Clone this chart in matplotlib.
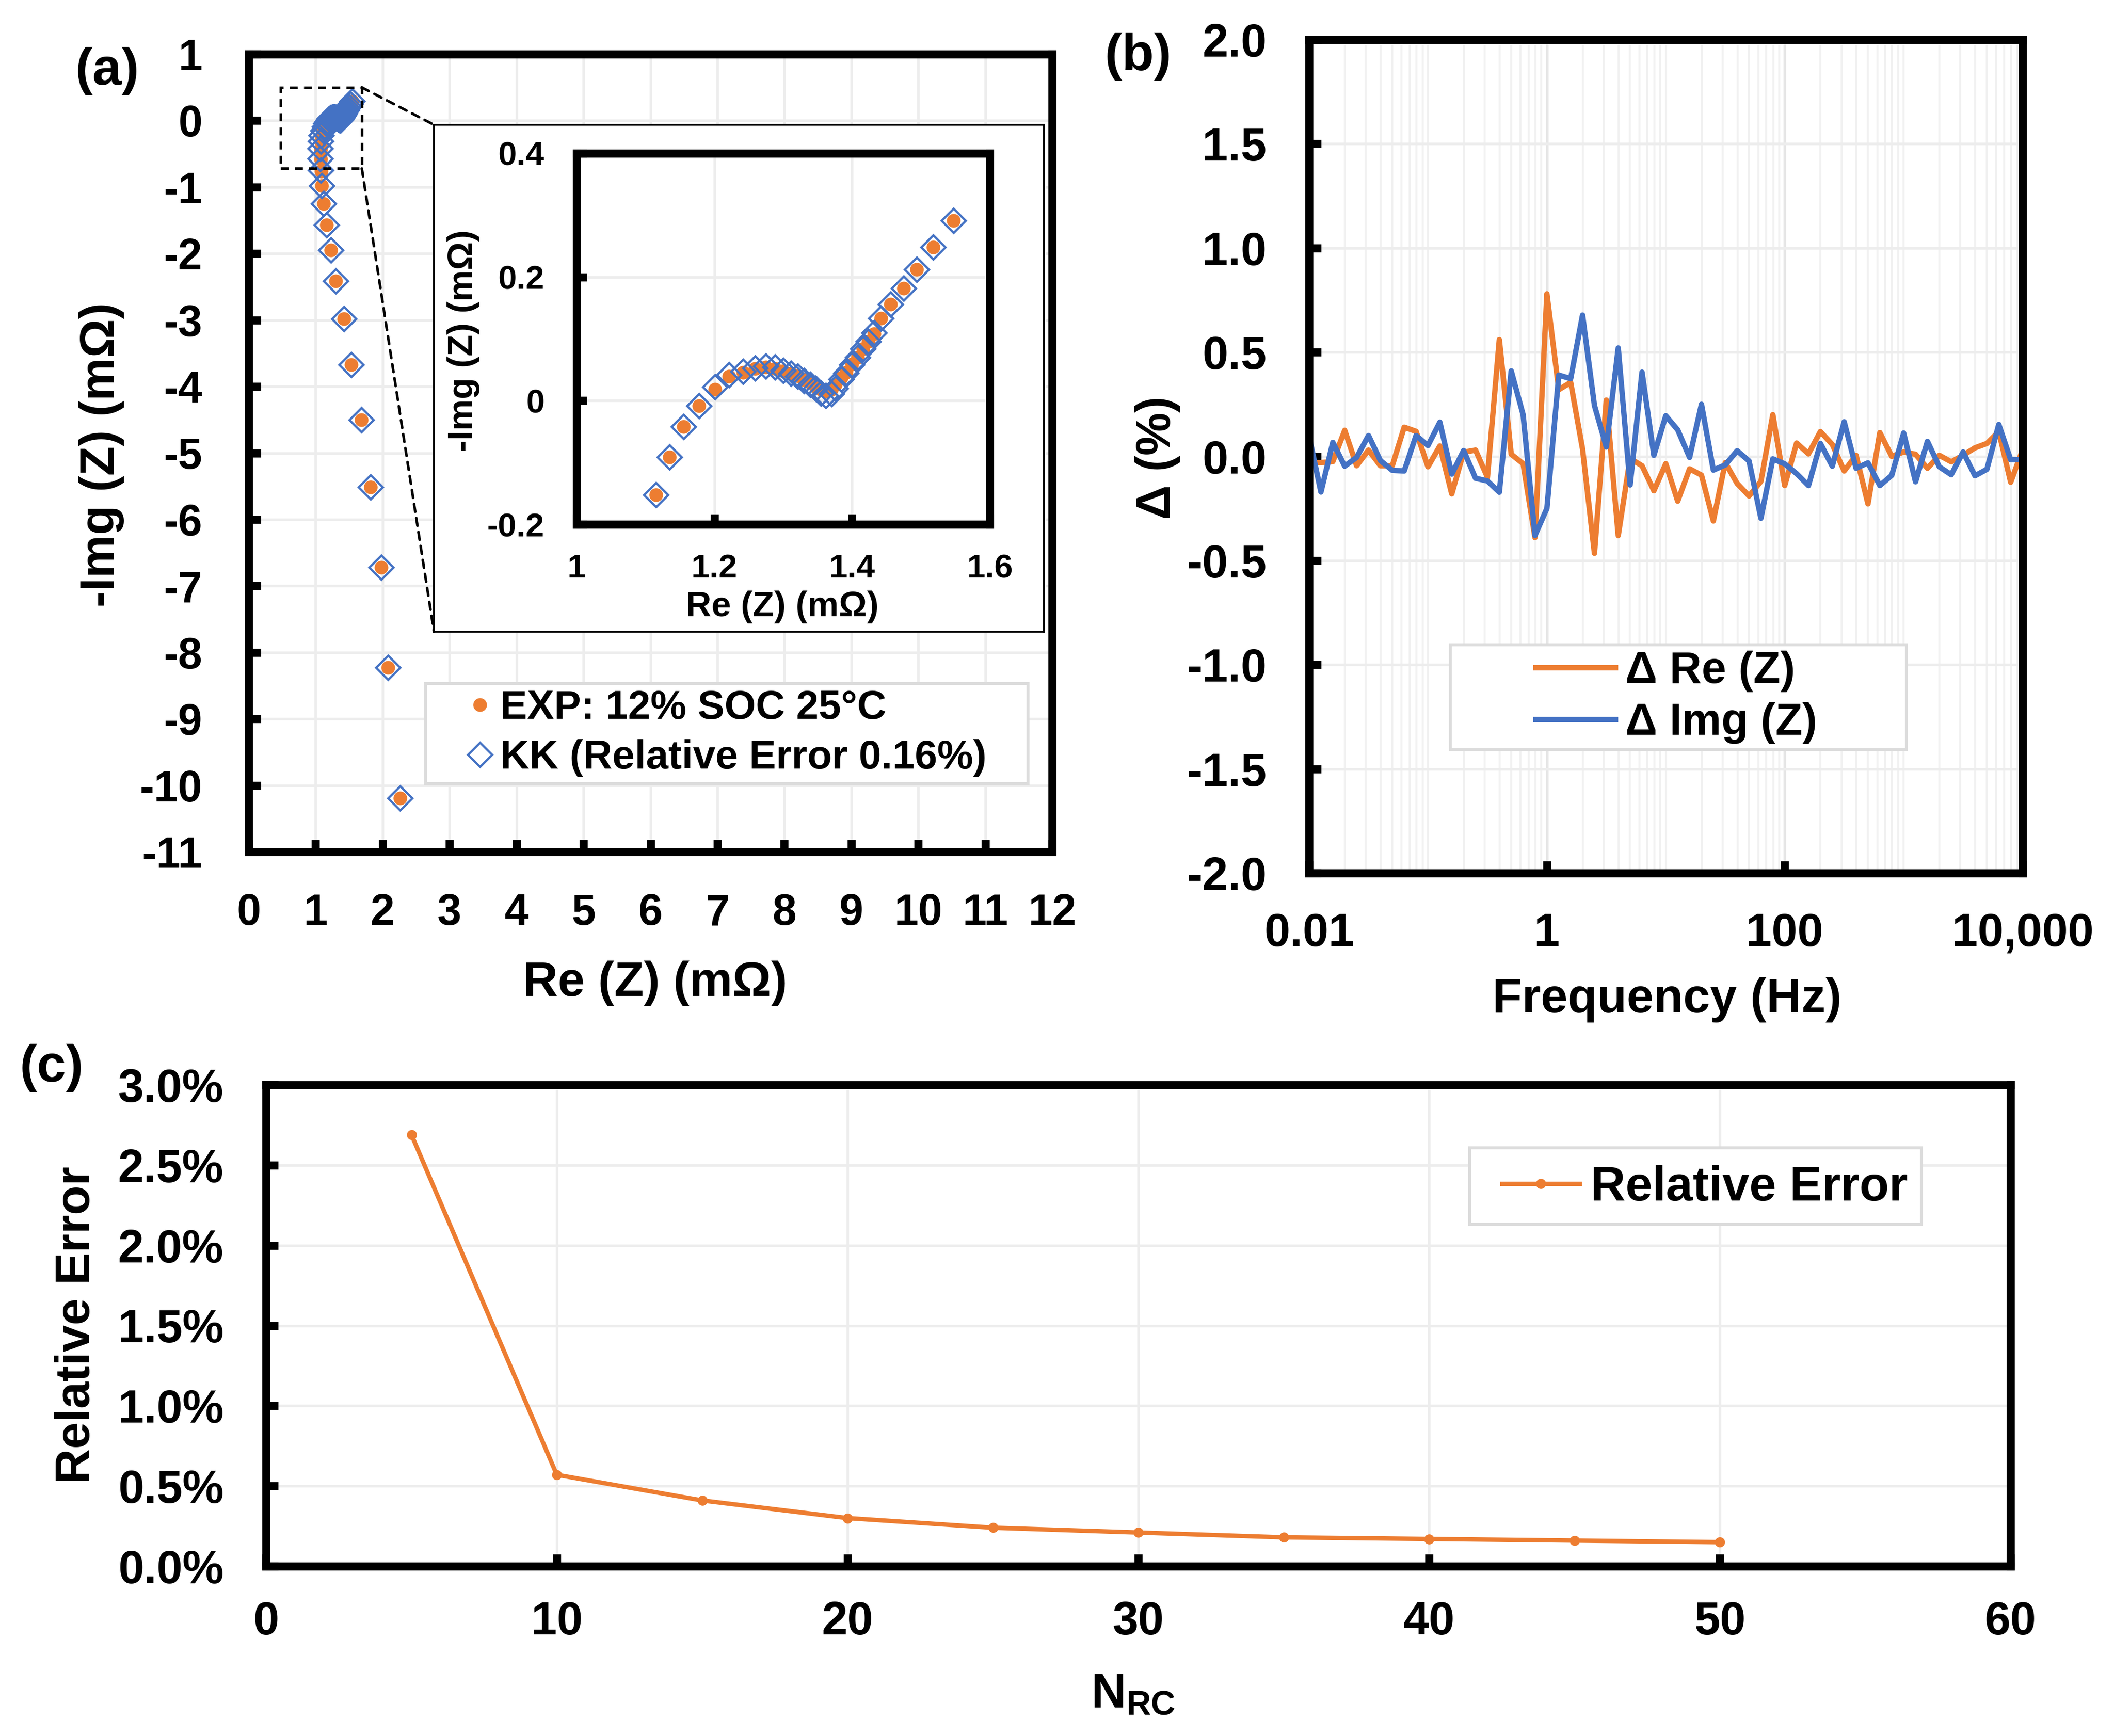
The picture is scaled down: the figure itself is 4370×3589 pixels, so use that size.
import matplotlib
matplotlib.use('Agg')
import matplotlib.pyplot as plt
from matplotlib.patches import Rectangle, ConnectionPatch
from matplotlib.ticker import FixedLocator, FormatStrFormatter, FuncFormatter, LogLocator, NullFormatter
import numpy as np

# ---- data: (a) Nyquist, measured vs KK fit (mOhm)
exp_re = [2.26, 2.08, 1.98, 1.82, 1.68, 1.53, 1.42, 1.30, 1.23, 1.16, 1.12, 1.09,
          1.086, 1.08, 1.075, 1.082, 1.092,
          1.115, 1.135, 1.155, 1.178, 1.201, 1.221, 1.242, 1.259, 1.275, 1.288,
          1.300, 1.311, 1.321, 1.330, 1.339, 1.347, 1.355, 1.362, 1.370, 1.376,
          1.384, 1.391, 1.400, 1.408, 1.416, 1.424, 1.432, 1.442, 1.456, 1.475,
          1.494, 1.518, 1.547]
exp_im = [-10.19, -8.23, -6.72, -5.51, -4.50, -3.67, -2.98, -2.41, -1.95, -1.57, -1.25, -0.98,
          -0.76, -0.58, -0.43, -0.32, -0.235,
          -0.152, -0.091, -0.042, -0.008, 0.018, 0.039, 0.046, 0.052, 0.054, 0.052,
          0.048, 0.044, 0.040, 0.034, 0.029, 0.023, 0.018, 0.015, 0.018, 0.026,
          0.037, 0.046, 0.059, 0.070, 0.084, 0.096, 0.108, 0.133, 0.156, 0.182,
          0.212, 0.248, 0.291]
kk_re = [2.26, 2.08, 1.98, 1.82, 1.68, 1.53, 1.42, 1.30, 1.23, 1.16, 1.12, 1.09,
         1.078, 1.072, 1.068, 1.074, 1.085,
         1.115, 1.135, 1.155, 1.178, 1.201, 1.221, 1.242, 1.259, 1.275, 1.288,
         1.300, 1.311, 1.321, 1.330, 1.339, 1.347, 1.355, 1.362, 1.370, 1.376,
         1.384, 1.391, 1.400, 1.408, 1.416, 1.424, 1.432, 1.442, 1.456, 1.475,
         1.494, 1.518, 1.547]
kk_im = [-10.19, -8.23, -6.72, -5.51, -4.50, -3.67, -2.98, -2.41, -1.95, -1.57, -1.25, -0.98,
         -0.75, -0.57, -0.42, -0.31, -0.225,
         -0.152, -0.091, -0.042, -0.008, 0.022, 0.042, 0.047, 0.053, 0.056, 0.054,
         0.049, 0.044, 0.039, 0.032, 0.026, 0.020, 0.012, 0.008, 0.011, 0.020,
         0.035, 0.045, 0.058, 0.070, 0.084, 0.096, 0.110, 0.133, 0.156, 0.182,
         0.212, 0.248, 0.291]

# ---- data: (b) residuals (%), 10 points per decade from 0.01 Hz to 10 kHz
mantissa = [1.0, 1.259, 1.585, 1.995, 2.512, 3.162, 3.981, 5.012, 6.310, 7.943]
freq = [m * 10.0 ** e for e in range(-2, 4) for m in mantissa] + [10000.0]
d_re = [-0.03, -0.03, -0.025, 0.125, -0.045, 0.03, -0.045, -0.045, 0.14, 0.12,
        -0.05, 0.05, -0.18, 0.02, 0.03, -0.10, 0.56, 0.01, -0.035, -0.39,
        0.78, 0.32, 0.355, 0.035, -0.465, 0.27, -0.38, -0.01, -0.045, -0.165,
        -0.035, -0.215, -0.06, -0.09, -0.31, -0.03, -0.13, -0.19, -0.12, 0.20,
        -0.14, 0.064, 0.012, 0.119, 0.057, -0.07, 0.005, -0.228, 0.114, 0.0,
        0.021, 0.01, -0.057, 0.005, -0.026, 0.005, 0.041, 0.062, 0.119, -0.124, 0.031]
d_img = [0.098, -0.171, 0.067, -0.047, -0.005, 0.10, -0.02, -0.067, -0.07, 0.10,
         0.052, 0.164, -0.085, 0.028, -0.105, -0.118, -0.172, 0.41, 0.20, -0.38,
         -0.25, 0.39, 0.373, 0.678, 0.244, 0.045, 0.52, -0.137, 0.404, 0.005,
         0.195, 0.127, -0.005, 0.25, -0.066, -0.041, 0.027, -0.022, -0.297, -0.012,
         -0.036, -0.083, -0.14, 0.062, -0.047, 0.166, -0.057, -0.031, -0.14, -0.091,
         0.112, -0.122, 0.072, -0.05, -0.088, 0.021, -0.093, -0.062, 0.153, -0.016, -0.016]

# ---- data: (c) relative error (%) vs number of RC elements
n_rc = [5, 10, 15, 20, 25, 30, 35, 40, 45, 50]
rel_err = [2.69, 0.57, 0.41, 0.30, 0.24, 0.21, 0.18, 0.17, 0.16, 0.15]

ORANGE = '#ED7D31'
BLUE = '#4472C4'
GRID = '#ededed'

plt.rcParams['font.family'] = ['Liberation Sans', 'DejaVu Sans']
plt.rcParams['font.weight'] = 'bold'
plt.rcParams['axes.labelweight'] = 'bold'
plt.rcParams['axes.unicode_minus'] = False
plt.rcParams['mathtext.fontset'] = 'custom'
plt.rcParams['mathtext.rm'] = 'Liberation Sans:bold'
plt.rcParams['mathtext.it'] = 'Liberation Sans:bold'
plt.rcParams['mathtext.bf'] = 'Liberation Sans:bold'

W, H = 4370, 3589
fig = plt.figure(figsize=(W / 300, H / 300), dpi=300)


def rect(l, t, r, b):
    return [l / W, 1 - b / H, (r - l) / W, (b - t) / H]


def style(ax, size, padx, pady, lw=4.0, tlen=6):
    for s in ax.spines.values():
        s.set_linewidth(lw)
        s.set_zorder(5)
    ax.tick_params(which='major', direction='in', length=tlen, width=lw, labelsize=size)
    ax.tick_params(axis='x', pad=padx)
    ax.tick_params(axis='y', pad=pady)
    ax.set_axisbelow(True)
    ax.grid(True, which='major', color=GRID, lw=1.3)


def put_label(ax, which, text, x, y, size):
    if which == 'x':
        ax.set_xlabel(text, fontsize=size, fontweight='bold')
        ax.xaxis.set_label_coords(x, y)
        ax.xaxis.label.set_verticalalignment('center')
    else:
        ax.set_ylabel(text, fontsize=size, fontweight='bold')
        ax.yaxis.set_label_coords(x, y)
        ax.yaxis.label.set_verticalalignment('center')


def legend_frame(ax, x0, y0, x1, y1):
    ax.add_patch(Rectangle((x0, y0), x1 - x0, y1 - y0, transform=ax.transAxes,
                           facecolor='white', edgecolor='#dcdcdc', lw=1.5, zorder=6))


# ================= (a) Nyquist =================
ax_a = fig.add_axes(rect(514, 112, 2175, 1761))
ax_a.plot(exp_re, exp_im, 'o', color=ORANGE, ms=6.8, mew=0, label='EXP: 12% SOC 25°C', zorder=2)
ax_a.plot(kk_re, kk_im, 'D', mfc='none', mec=BLUE, ms=8.6, mew=1.1,
          label='KK (Relative Error 0.16%)', zorder=3)
ax_a.set_xlim(0, 12)
ax_a.set_ylim(-11, 1)
ax_a.set_xticks(range(0, 13))
ax_a.set_yticks(range(-11, 2))
style(ax_a, 21.5, 20.5, 23)
put_label(ax_a, 'x', 'Re (Z) (mΩ)', 0.506, -0.165, 24)
put_label(ax_a, 'y', '-Img (Z) (mΩ)', -0.183, 0.498, 24)

ax_a.add_patch(Rectangle((0.48, -0.72), 1.21, 1.22, fill=False, ec='black', lw=1.3,
                         ls=(0, (3, 2.4)), zorder=4))

legend_frame(ax_a, 0.2203, 0.0855, 0.970, 0.211)
leg_a = ax_a.legend(loc='center left', bbox_to_anchor=(0.2628, 0.1489), frameon=False,
                    fontsize=20, borderpad=0, borderaxespad=0, handlelength=1.0,
                    handletextpad=0.0, labelspacing=0.3)
leg_a.set_zorder(7)

# inset frame and inset axes
ax_box = fig.add_axes(rect(897, 258, 2158, 1306), zorder=3)
ax_box.set_xticks([])
ax_box.set_yticks([])
for s in ax_box.spines.values():
    s.set_linewidth(0.9)

ax_in = fig.add_axes(rect(1192, 317, 2046, 1084), zorder=4)
ax_in.plot(exp_re, exp_im, 'o', color=ORANGE, ms=6.8, mew=0, zorder=2)
ax_in.plot(kk_re, kk_im, 'D', mfc='none', mec=BLUE, ms=8.6, mew=1.1, zorder=3)
ax_in.set_xlim(1.0, 1.6)
ax_in.set_ylim(-0.2, 0.4)
ax_in.set_xticks([1.0, 1.2, 1.4, 1.6])
ax_in.set_xticklabels(['1', '1.2', '1.4', '1.6'])
ax_in.set_yticks([-0.2, 0.0, 0.2, 0.4])
ax_in.set_yticklabels(['-0.2', '0', '0.2', '0.4'])
style(ax_in, 16.5, 14.5, 16, tlen=5)
put_label(ax_in, 'x', 'Re (Z) (mΩ)', 0.498, -0.223, 17.5)
put_label(ax_in, 'y', '-Img (Z) (mΩ)', -0.274, 0.495, 17.5)

for xy_a, xy_b in [((1.69, 0.50), (0, 1)), ((1.69, -0.72), (0, 0))]:
    con = ConnectionPatch(xyA=xy_a, coordsA='data', axesA=ax_a,
                          xyB=xy_b, coordsB='axes fraction', axesB=ax_box,
                          color='black', lw=1.3, ls=(0, (3, 2.4)), zorder=2)
    fig.add_artist(con)

# ================= (b) residuals =================
ax_b = fig.add_axes(rect(2706, 82, 4181, 1805))
ax_b.plot(freq, d_re, color=ORANGE, lw=2.7, label='Δ Re (Z)', zorder=2)
ax_b.plot(freq, d_img, color=BLUE, lw=2.7, label='Δ Img (Z)', zorder=3)
ax_b.set_xscale('log')
ax_b.set_xlim(0.01, 10000)
ax_b.set_ylim(-2.0, 2.0)
ax_b.xaxis.set_major_locator(FixedLocator([0.01, 1, 100, 10000]))
ax_b.xaxis.set_major_formatter(FuncFormatter(lambda v, p: {0.01: '0.01', 1: '1', 100: '100', 10000: '10,000'}.get(v, '')))
ax_b.xaxis.set_minor_locator(LogLocator(base=10, subs=np.arange(1, 10), numticks=100))
ax_b.xaxis.set_minor_formatter(NullFormatter())
ax_b.set_yticks(np.arange(-2.0, 2.01, 0.5))
ax_b.yaxis.set_major_formatter(FormatStrFormatter('%.1f'))
style(ax_b, 23, 19.5, 21)
ax_b.grid(True, which='major', axis='x', color='#e6e6e6', lw=1.3)
ax_b.grid(True, which='minor', axis='x', color='#f1f1f1', lw=1.0)
ax_b.tick_params(which='minor', length=0)
put_label(ax_b, 'x', 'Frequency (Hz)', 0.502, -0.152, 24)
put_label(ax_b, 'y', 'Δ (%)', -0.212, 0.4985, 24)

legend_frame(ax_b, 0.198, 0.148, 0.837, 0.274)
leg_b = ax_b.legend(loc='center left', bbox_to_anchor=(0.317, 0.211), frameon=False,
                    fontsize=22, borderpad=0, borderaxespad=0, handlelength=1.81,
                    handletextpad=0.22, labelspacing=0.23)
leg_b.set_zorder(7)

# ================= (c) relative error vs N_RC =================
ax_c = fig.add_axes(rect(550, 2243, 4156, 3238))
ax_c.plot(n_rc, rel_err, '-o', color=ORANGE, lw=2.2, ms=5, mew=0, label='Relative Error', zorder=3)
ax_c.set_xlim(0, 60)
ax_c.set_ylim(0, 3.0)
ax_c.set_xticks(range(0, 61, 10))
ax_c.set_yticks(np.arange(0, 3.01, 0.5))
ax_c.yaxis.set_major_formatter(FuncFormatter(lambda v, p: '%.1f%%' % v))
style(ax_c, 23, 17, 21)
put_label(ax_c, 'x', r'N$_{\mathrm{RC}}$', 0.497, -0.268, 24)
put_label(ax_c, 'y', 'Relative Error', -0.1085, 0.5015, 24)

legend_frame(ax_c, 0.690, 0.711, 0.949, 0.869)
leg_c = ax_c.legend(loc='center left', bbox_to_anchor=(0.7086, 0.786), frameon=False,
                    fontsize=24, borderpad=0, borderaxespad=0, handlelength=1.6,
                    handletextpad=0.23)
leg_c.set_zorder(7)

# panel tags
for tag, (px, py) in {'(a)': (222, 147), '(b)': (2353, 117), '(c)': (107, 2208)}.items():
    fig.text(px / W, 1 - py / H, tag, fontsize=26, fontweight='bold', ha='center', va='center')

fig.savefig('out.png', dpi=300)
